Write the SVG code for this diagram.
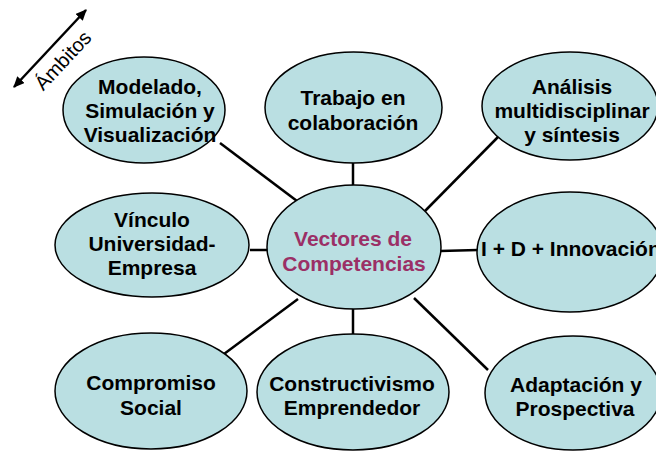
<svg xmlns="http://www.w3.org/2000/svg" width="656" height="452" viewBox="0 0 656 452">
<defs>
<marker id="ah" viewBox="0 0 10 10" refX="9" refY="5" markerWidth="4.5" markerHeight="4" orient="auto-start-reverse" markerUnits="strokeWidth" preserveAspectRatio="none">
<path d="M0,0 L10,5 L0,10 z" fill="#000"/>
</marker>
<style>
.n{fill:#BADFE2;stroke:#000;stroke-width:1.5}
.t{font-family:"Liberation Sans",Arial,sans-serif;font-weight:bold;font-size:21px;fill:#000;text-anchor:middle}
.c{fill:#9B2F66}
.e{stroke:#000;stroke-width:2.5;fill:none}
</style>
</defs>
<rect width="656" height="452" fill="#fff"/>
<g id="connectors">
<line class="e" x1="220" y1="143" x2="297" y2="201"/>
<line class="e" x1="353" y1="162" x2="353" y2="186"/>
<line class="e" x1="498" y1="137" x2="425" y2="211"/>
<line class="e" x1="250" y1="250" x2="268" y2="250"/>
<line class="e" x1="440" y1="251" x2="478" y2="250"/>
<line class="e" x1="224" y1="354" x2="298" y2="299"/>
<line class="e" x1="353" y1="307" x2="353" y2="334"/>
<line class="e" x1="414" y1="298" x2="488" y2="370"/>
</g>
<g id="ambitos">
<line x1="14" y1="87" x2="86" y2="10" stroke="#000" stroke-width="2.5" marker-start="url(#ah)" marker-end="url(#ah)"/>
<text x="0" y="0" transform="translate(68,65) rotate(-47)" font-family="'Liberation Sans',Arial,sans-serif" font-size="20" text-anchor="middle">Ámbitos</text>
</g>
<g id="modelado">
<ellipse class="n" cx="144" cy="110" rx="81" ry="53"/>
<text class="t" x="150" y="94">Modelado,</text>
<text class="t" x="150" y="118">Simulación y</text>
<text class="t" x="150" y="142">Visualización</text>
</g>
<g id="trabajo">
<ellipse class="n" cx="353.5" cy="107.5" rx="88.5" ry="55.5"/>
<text class="t" x="353" y="105">Trabajo en</text>
<text class="t" x="353" y="130">colaboración</text>
</g>
<g id="analisis">
<ellipse class="n" cx="570" cy="106" rx="88" ry="54"/>
<text class="t" x="572" y="94">Análisis</text>
<text class="t" x="572" y="118">multidisciplinar</text>
<text class="t" x="572" y="142">y síntesis</text>
</g>
<g id="vinculo">
<ellipse class="n" cx="152" cy="245" rx="97" ry="52"/>
<text class="t" x="152" y="227">Vínculo</text>
<text class="t" x="152" y="251">Universidad-</text>
<text class="t" x="152" y="275">Empresa</text>
</g>
<g id="vectores">
<ellipse class="n" cx="354" cy="247" rx="87" ry="62"/>
<text class="t c" x="353" y="246">Vectores de</text>
<text class="t c" x="354" y="271">Competencias</text>
</g>
<g id="imasd">
<ellipse class="n" cx="570" cy="252" rx="93" ry="60"/>
<text class="t" x="481" y="256" style="text-anchor:start">I + D + Innovación</text>
</g>
<g id="compromiso">
<ellipse class="n" cx="151" cy="391" rx="96" ry="58"/>
<text class="t" x="151" y="390">Compromiso</text>
<text class="t" x="151" y="415">Social</text>
</g>
<g id="constructivismo">
<ellipse class="n" cx="353" cy="392" rx="96" ry="58"/>
<text class="t" x="352" y="391">Constructivismo</text>
<text class="t" x="352" y="415">Emprendedor</text>
</g>
<g id="adaptacion">
<ellipse class="n" cx="573" cy="393" rx="88" ry="57"/>
<text class="t" x="576" y="392">Adaptación y</text>
<text class="t" x="575" y="416">Prospectiva</text>
</g>
</svg>
